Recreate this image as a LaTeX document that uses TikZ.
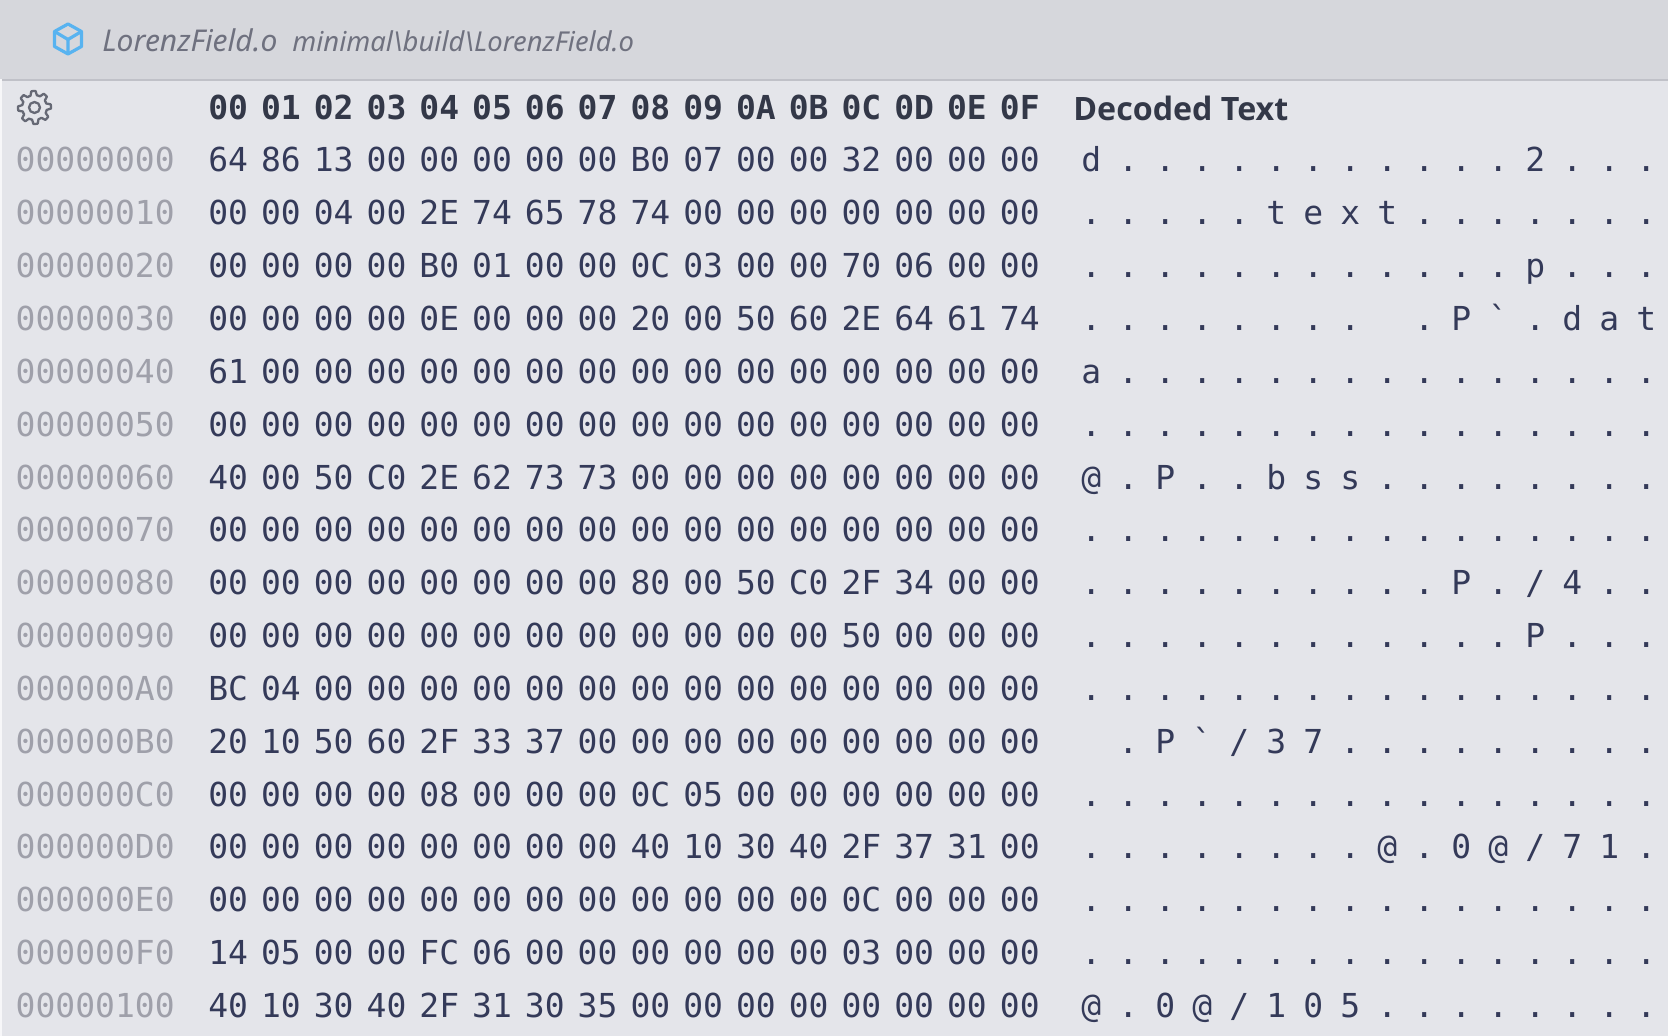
\documentclass[tikz,border=0pt]{standalone}
\usepackage{fontspec}
\newfontfamily\hexfont{DejaVu Sans Mono}
\newfontfamily\uifont{Noto Sans}
\newfontfamily\headfont{Open Sans}
\definecolor{barbg}{HTML}{D6D7DC}
\definecolor{bodybg}{HTML}{E4E5EA}
\definecolor{barline}{HTML}{C0C1C8}
\definecolor{hexink}{HTML}{343A59}
\definecolor{addrink}{HTML}{9FA0AA}
\definecolor{headink}{HTML}{333848}
\definecolor{titleink}{HTML}{6F717F}
\definecolor{cubeink}{HTML}{58B3F0}
\definecolor{gearink}{HTML}{666975}
\tikzset{
  hexcell/.style={anchor=base,inner sep=0pt,text=hexink,font=\hexfont\fontsize{16.5}{18}\selectfont},
  addrcell/.style={anchor=base,inner sep=0pt,text=addrink,font=\hexfont\fontsize{16.5}{18}\selectfont},
  headcell/.style={anchor=base,inner sep=0pt,text=headink,font=\hexfont\bfseries\fontsize{16.5}{18}\selectfont},
}
\begin{document}
\begin{tikzpicture}[x=0.5pt,y=-0.5pt]
\useasboundingbox (0,0) rectangle (1668,1036);
\fill[bodybg] (0,0) rectangle (1668,1036);
\fill[barbg] (0,0) rectangle (1668,79);
\fill[barline] (0,79) rectangle (1668,81.5);
\fill[white!70!bodybg] (0,79) rectangle (1.5,1036);
% cube
\begin{scope}[cubeink,line width=1.6pt,line join=round]
\draw (68,24) -- (81.5,31.5) -- (81.5,46.5) -- (68,54) -- (54.5,46.5) -- (54.5,31.5) -- cycle;
\draw (54.5,31.5) -- (68,39.5) -- (81.5,31.5) (68,39.5) -- (68,54);
\end{scope}
% gear
\begin{scope}[shift={(34.5,107.5)},gearink,line width=1.15pt,line join=round]
\draw plot[samples at={0,...,47},variable=\k] ({(mod(\k,6)<3?16.5:12.4)*cos(\k*7.5-11.25)},{(mod(\k,6)<3?16.5:12.4)*sin(\k*7.5-11.25)}) -- cycle;
\draw (0,0) circle[radius=5.5];
\end{scope}
% titles
\node[anchor=base west,inner sep=0pt,text=titleink,font=\uifont\itshape\fontsize{15}{17}\selectfont] (title) at (102,52) {LorenzField.o};
\node[anchor=base west,inner sep=0pt,text=titleink,font=\uifont\itshape\fontsize{13.7}{16}\selectfont] (path) at (292,52) {minimal\textbackslash build\textbackslash LorenzField.o};
% header row
\foreach \h [count=\c from 0] in {00,01,02,03,04,05,06,07,08,09,0A,0B,0C,0D,0E,0F}
  \node[headcell] (head\c) at ({228.2+52.77*\c},119.5) {\h};
\node[anchor=base west,inner sep=0pt,text=headink,font=\headfont\bfseries\fontsize{16.1}{18}\selectfont] (decoded) at (1073,120.5) {Decoded Text};
% hex rows
\foreach \a/\r [count=\n from 0] in {
00000000/{64,86,13,00,00,00,00,00,B0,07,00,00,32,00,00,00},
00000010/{00,00,04,00,2E,74,65,78,74,00,00,00,00,00,00,00},
00000020/{00,00,00,00,B0,01,00,00,0C,03,00,00,70,06,00,00},
00000030/{00,00,00,00,0E,00,00,00,20,00,50,60,2E,64,61,74},
00000040/{61,00,00,00,00,00,00,00,00,00,00,00,00,00,00,00},
00000050/{00,00,00,00,00,00,00,00,00,00,00,00,00,00,00,00},
00000060/{40,00,50,C0,2E,62,73,73,00,00,00,00,00,00,00,00},
00000070/{00,00,00,00,00,00,00,00,00,00,00,00,00,00,00,00},
00000080/{00,00,00,00,00,00,00,00,80,00,50,C0,2F,34,00,00},
00000090/{00,00,00,00,00,00,00,00,00,00,00,00,50,00,00,00},
000000A0/{BC,04,00,00,00,00,00,00,00,00,00,00,00,00,00,00},
000000B0/{20,10,50,60,2F,33,37,00,00,00,00,00,00,00,00,00},
000000C0/{00,00,00,00,08,00,00,00,0C,05,00,00,00,00,00,00},
000000D0/{00,00,00,00,00,00,00,00,40,10,30,40,2F,37,31,00},
000000E0/{00,00,00,00,00,00,00,00,00,00,00,00,0C,00,00,00},
000000F0/{14,05,00,00,FC,06,00,00,00,00,00,00,03,00,00,00},
00000100/{40,10,30,40,2F,31,30,35,00,00,00,00,00,00,00,00}} {
  \node[addrcell] (addr\n) at (95.2,{172+52.84*\n}) {\a};
  \foreach \b [count=\c from 0] in \r
    \node[hexcell] (hex\n-\c) at ({228.2+52.77*\c},{172+52.84*\n}) {\b};
}
% decoded rows
\foreach \r [count=\n from 0] in {
{d,.,.,.,.,.,.,.,.,.,.,.,2,.,.,.},
{.,.,.,.,.,t,e,x,t,.,.,.,.,.,.,.},
{.,.,.,.,.,.,.,.,.,.,.,.,p,.,.,.},
{.,.,.,.,.,.,.,.,{},.,P,`,.,d,a,t},
{a,.,.,.,.,.,.,.,.,.,.,.,.,.,.,.},
{.,.,.,.,.,.,.,.,.,.,.,.,.,.,.,.},
{@,.,P,.,.,b,s,s,.,.,.,.,.,.,.,.},
{.,.,.,.,.,.,.,.,.,.,.,.,.,.,.,.},
{.,.,.,.,.,.,.,.,.,.,P,.,/,4,.,.},
{.,.,.,.,.,.,.,.,.,.,.,.,P,.,.,.},
{.,.,.,.,.,.,.,.,.,.,.,.,.,.,.,.},
{{},.,P,`,/,3,7,.,.,.,.,.,.,.,.,.},
{.,.,.,.,.,.,.,.,.,.,.,.,.,.,.,.},
{.,.,.,.,.,.,.,.,@,.,0,@,/,7,1,.},
{.,.,.,.,.,.,.,.,.,.,.,.,.,.,.,.},
{.,.,.,.,.,.,.,.,.,.,.,.,.,.,.,.},
{@,.,0,@,/,1,0,5,.,.,.,.,.,.,.,.}} {
  \foreach \b [count=\c from 0] in \r
    \node[hexcell] (txt\n-\c) at ({1091.3+37*\c},{172+52.84*\n}) {\b};
}
\end{tikzpicture}
\end{document}
